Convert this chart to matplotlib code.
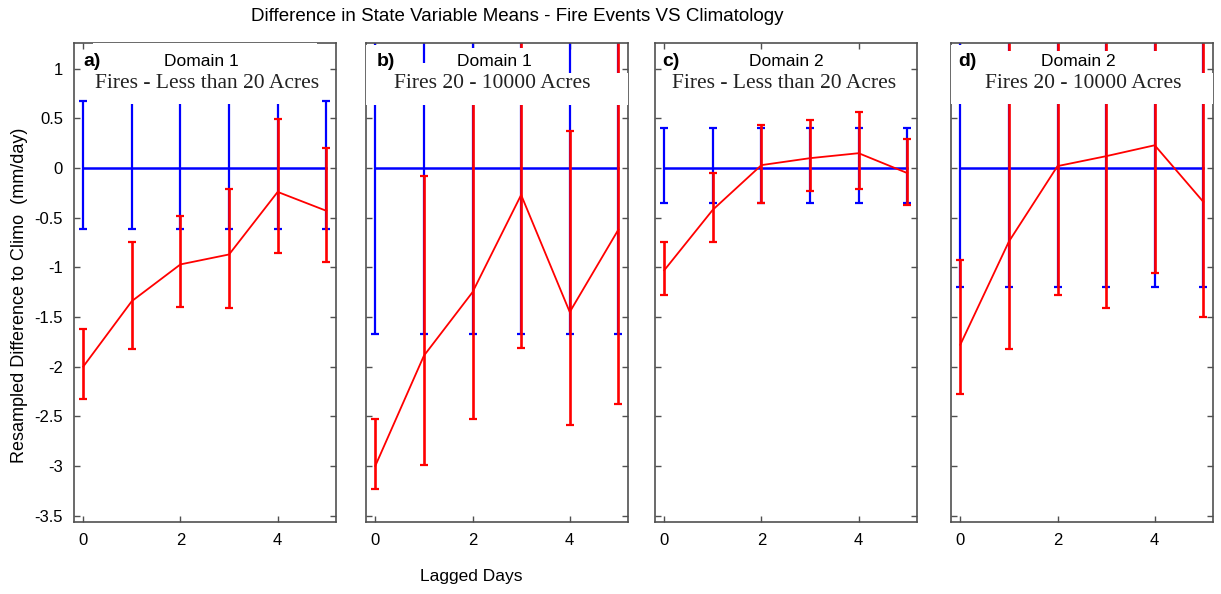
import matplotlib
matplotlib.use("Agg")
import matplotlib.pyplot as plt
from matplotlib.patches import Rectangle

plt.rcParams['font.family'] = ['Liberation Sans', 'DejaVu Sans']

days = [0, 1, 2, 3, 4, 5]

# a) Domain 1, fires less than 20 acres
fire_a = [-2.00, -1.34, -0.97, -0.87, -0.24, -0.43]
fire_a_hi = [-1.62, -0.745, -0.48, -0.215, 0.49, 0.20]
fire_a_lo = [-2.33, -1.82, -1.40, -1.41, -0.86, -0.95]
clim_a_hi = [0.68, 0.68, 0.68, 0.68, 0.68, 0.68]
clim_a_lo = [-0.61, -0.61, -0.61, -0.61, -0.61, -0.61]

# b) Domain 1, fires 20 - 10000 acres
fire_b = [-3.00, -1.89, -1.25, -0.27, -1.45, -0.62]
fire_b_hi = [-2.53, -0.08, 0.90, 1.60, 0.37, 1.50]
fire_b_lo = [-3.23, -2.99, -2.53, -1.81, -2.59, -2.38]
clim_b_hi = [1.67, 1.67, 1.67, 1.67, 1.67, 1.67]
clim_b_lo = [-1.67, -1.67, -1.67, -1.67, -1.67, -1.67]

# c) Domain 2, fires less than 20 acres
fire_c = [-1.03, -0.42, 0.03, 0.10, 0.15, -0.05]
fire_c_hi = [-0.74, -0.05, 0.43, 0.48, 0.56, 0.29]
fire_c_lo = [-1.28, -0.74, -0.35, -0.23, -0.21, -0.37]
clim_c_hi = [0.40, 0.40, 0.40, 0.40, 0.40, 0.40]
clim_c_lo = [-0.35, -0.35, -0.35, -0.35, -0.35, -0.35]

# d) Domain 2, fires 20 - 10000 acres
fire_d = [-1.78, -0.74, 0.02, 0.12, 0.23, -0.34]
fire_d_hi = [-0.93, 1.60, 1.40, 1.50, 1.50, 1.60]
fire_d_lo = [-2.28, -1.82, -1.28, -1.41, -1.06, -1.50]
clim_d_hi = [1.50, 1.50, 1.50, 1.50, 1.50, 1.50]
clim_d_lo = [-1.20, -1.20, -1.20, -1.20, -1.20, -1.20]

panel_tags = ['a)', 'b)', 'c)', 'd)']
domains = ['Domain 1', 'Domain 1', 'Domain 2', 'Domain 2']
size_classes = ['Fires - Less than 20 Acres', 'Fires 20 - 10000 Acres',
                'Fires - Less than 20 Acres', 'Fires 20 - 10000 Acres']

yticks = [-3.5, -3, -2.5, -2, -1.5, -1, -0.5, 0, 0.5, 1]
ytick_labels = ['-3.5', '-3', '-2.5', '-2', '-1.5', '-1', '-0.5', '0', '0.5', '1']
xticks = [0, 2, 4]

panels = [
    (fire_a, fire_a_hi, fire_a_lo, clim_a_hi, clim_a_lo),
    (fire_b, fire_b_hi, fire_b_lo, clim_b_hi, clim_b_lo),
    (fire_c, fire_c_hi, fire_c_lo, clim_c_hi, clim_c_lo),
    (fire_d, fire_d_hi, fire_d_lo, clim_d_hi, clim_d_lo),
]

# white text-box backgrounds: (x0, x1, top) pieces plus a common bottom
masks = [
    (0.645, [(0.2, 4.8, 1.3)]),
    (0.634, [(-0.2, 0.5, 1.239), (0.5, 1.5, 1.057), (1.5, 3.5, 1.208), (3.5, 5.3, 0.957)]),
    (0.75, []),
    (0.65, [(-0.2, 0.5, 1.239), (0.5, 4.5, 1.18), (4.5, 5.3, 0.957)]),
]

ax_left = [0.0606, 0.2998, 0.5364, 0.7789]
tag_x = [0.035, 0.042, 0.027, 0.027]
dom_x = [0.485, 0.489, 0.503, 0.485]
size_x = [0.506, 0.483, 0.494, 0.504]

fig = plt.figure(figsize=(12.21, 5.94), dpi=100)
edge = '#505050'

for i, (mean, hi, lo, chi, clo) in enumerate(panels):
    ax = fig.add_axes([ax_left[i], 0.1212, 0.2146, 0.8064])
    zero = [0] * len(days)
    ax.errorbar(days, zero, yerr=[[z - l for z, l in zip(zero, clo)],
                                  [h - z for z, h in zip(zero, chi)]],
                color='#0000ff', lw=1.8, elinewidth=1.6, capsize=3, capthick=1.6, zorder=2)
    ax.errorbar(days, mean, yerr=[[m - l for m, l in zip(mean, lo)],
                                  [h - m for m, h in zip(mean, hi)]],
                color='#ff0000', lw=1.3, elinewidth=1.9, capsize=3, capthick=1.6, zorder=2.5)

    bottom, pieces = masks[i]
    for x0, x1, top in pieces:
        ax.add_patch(Rectangle((x0, bottom), x1 - x0, top - bottom,
                               facecolor='white', edgecolor='none', zorder=3))

    ax.text(tag_x[i], 0.962, panel_tags[i], transform=ax.transAxes, fontsize=14,
            fontweight='bold', ha='left', va='center', zorder=4)
    ax.text(dom_x[i], 0.962, domains[i], transform=ax.transAxes, fontsize=12.5,
            ha='center', va='center', zorder=4)
    ax.text(size_x[i], 0.915, size_classes[i], transform=ax.transAxes, fontsize=15.5,
            family=['Liberation Serif', 'DejaVu Serif'], color='#222222',
            ha='center', va='center', zorder=4)

    ax.set_xlim(-0.19, 5.2)
    ax.set_ylim(-3.565, 1.26)
    ax.set_xticks(xticks)
    ax.set_yticks(yticks)
    if i == 0:
        ax.set_yticklabels(ytick_labels)
    else:
        ax.set_yticklabels([])
    ax.tick_params(direction='in', top=True, right=True, length=4, width=1,
                   color=edge, labelsize=12, pad=8)
    for s in ax.spines.values():
        s.set_color(edge)
        s.set_linewidth(1.2)

fig.text(0.424, 0.972, 'Difference in State Variable Means - Fire Events VS Climatology',
         fontsize=13.5, ha='center', va='center')
fig.text(0.386, 0.030, 'Lagged Days', fontsize=12.5, ha='center', va='center')
fig.text(0.016, 0.503, 'Resampled Difference to Climo  (mm/day)', fontsize=13,
         rotation=90, ha='center', va='center')

fig.savefig('out.png', dpi=100)
